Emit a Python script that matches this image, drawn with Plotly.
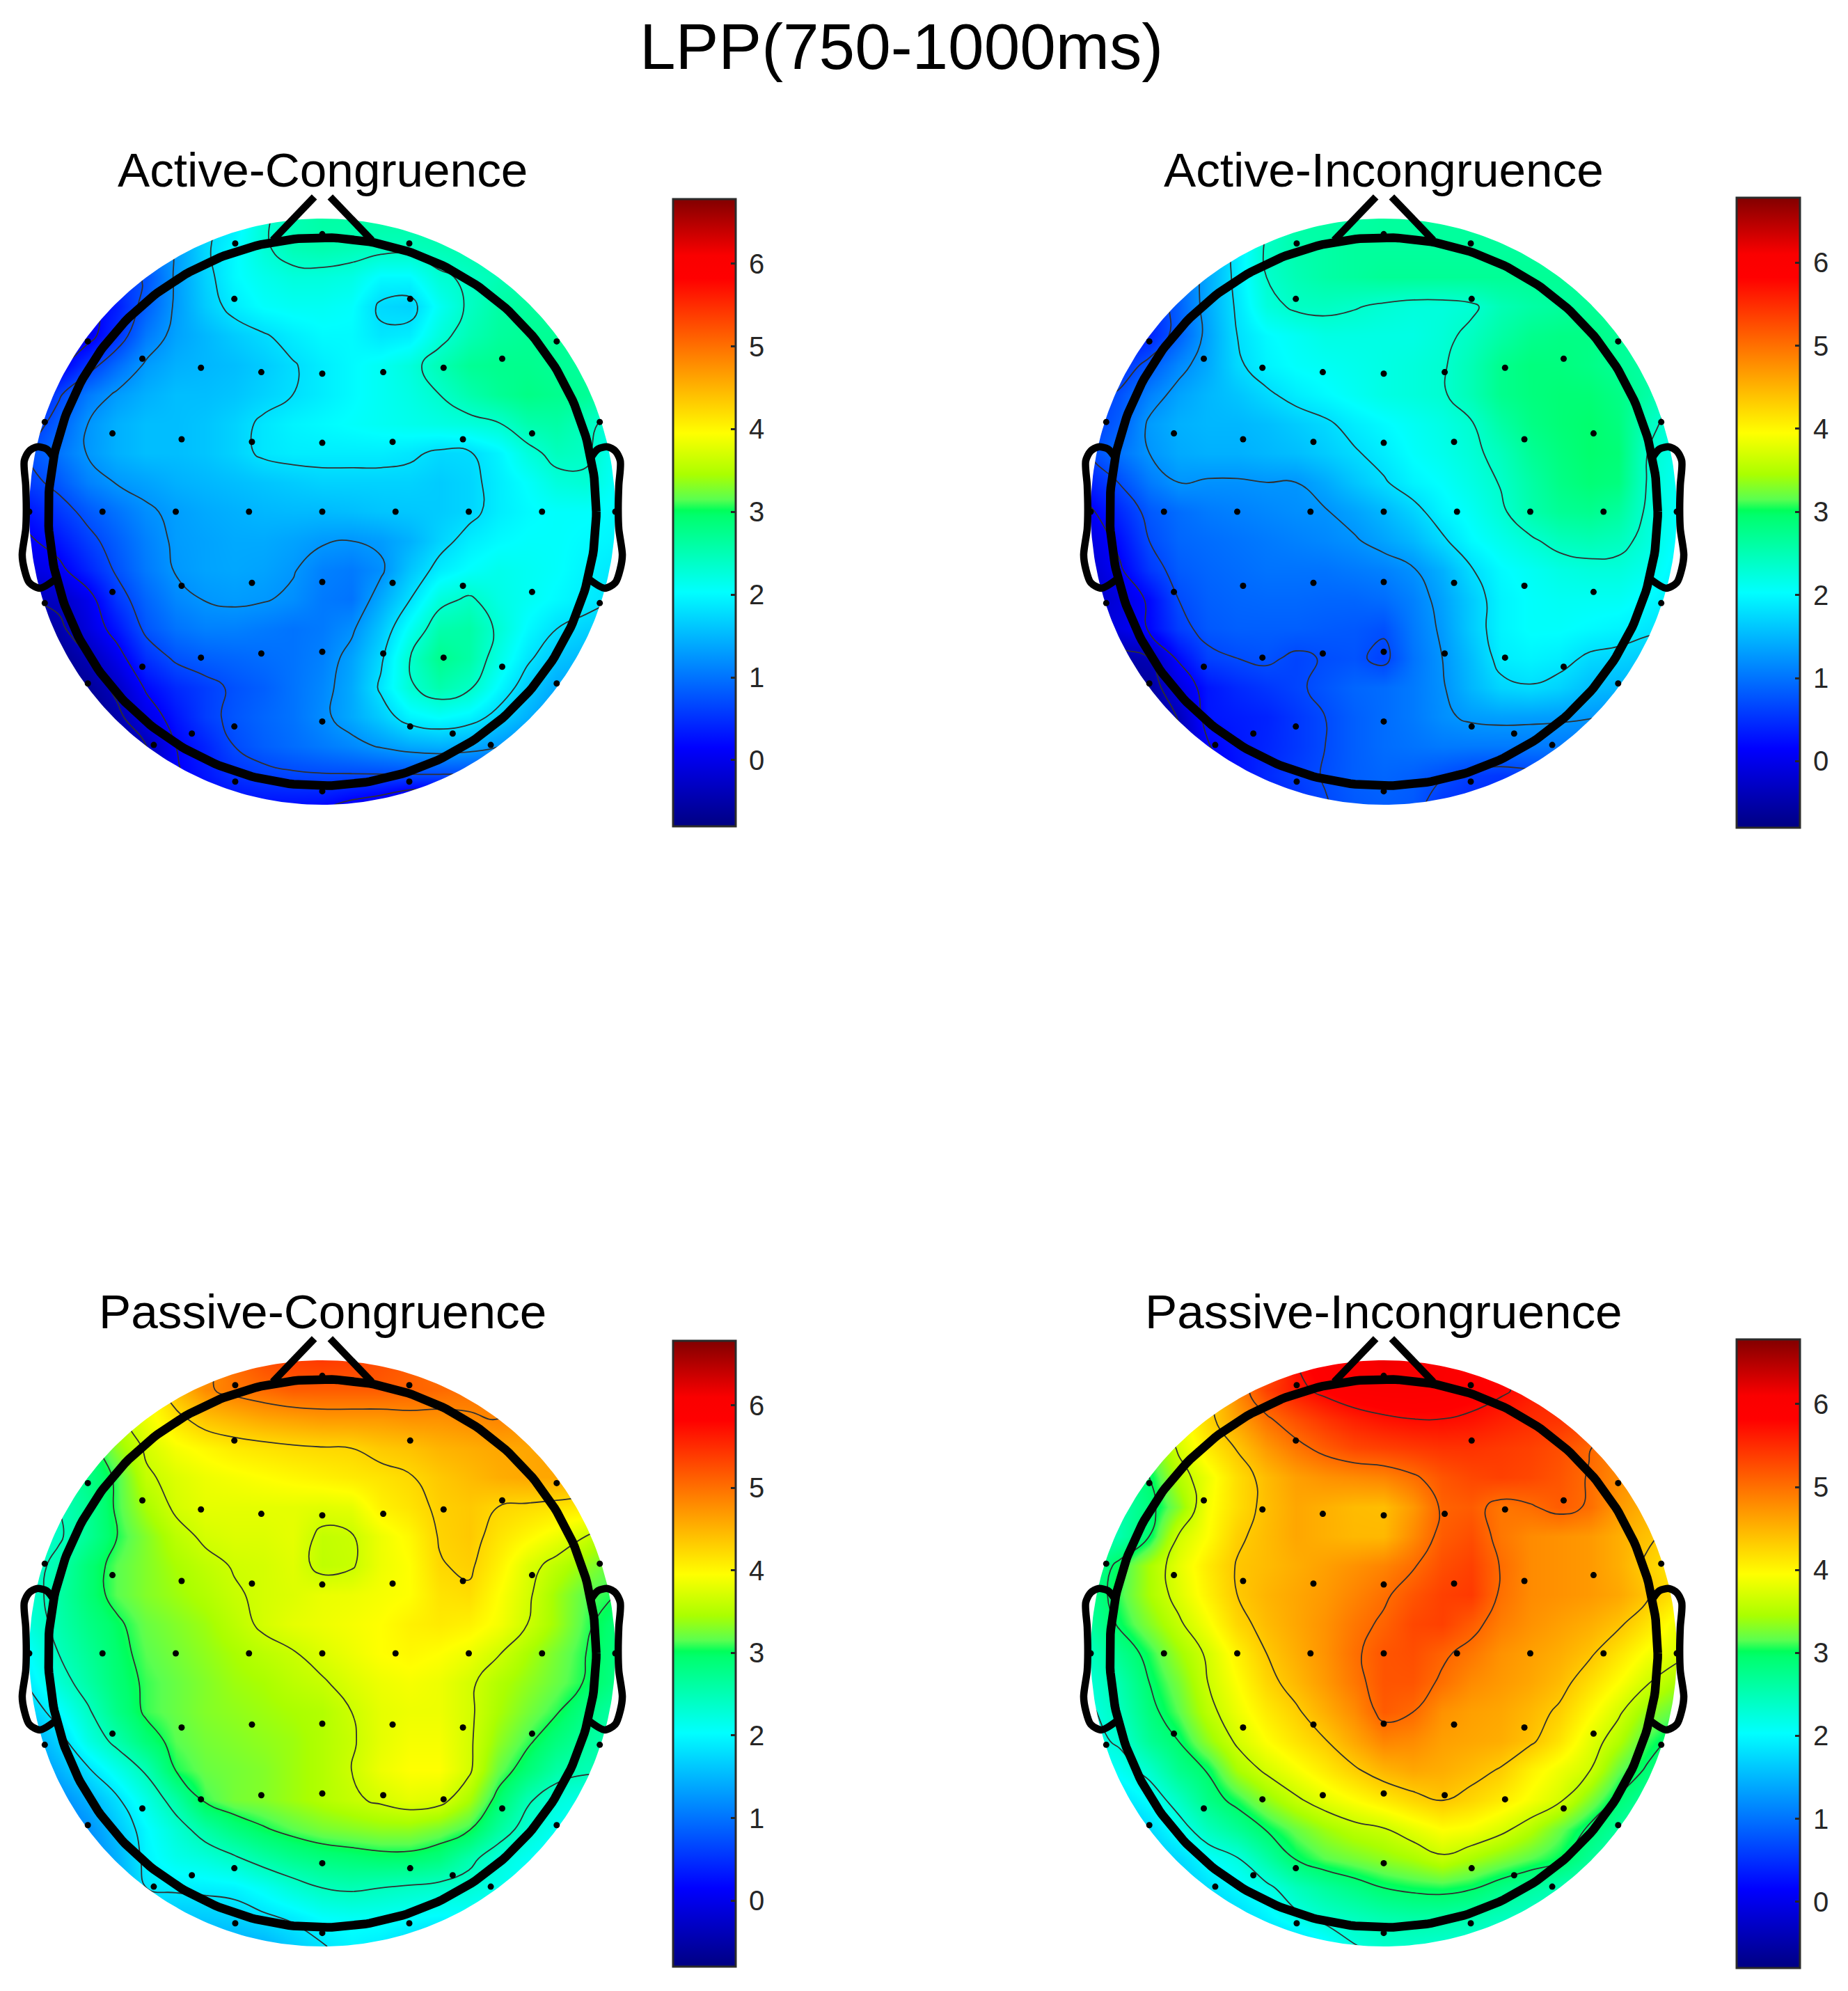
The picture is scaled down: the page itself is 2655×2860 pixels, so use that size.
import numpy as np
import plotly.graph_objects as go

W, H = 2655, 2860
titles = ["Active-Congruence", "Active-Incongruence", "Passive-Congruence", "Passive-Incongruence"]
main_title = "LPP(750-1000ms)"
tick_values = [0, 1, 2, 3, 4, 5, 6]
z_min, z_max = -0.80, 6.78
color_values = [-0.80, 0.15, 2.03, 2.95, 3.02, 3.15, 3.45, 3.95, 5.82, 6.10, 6.78]
color_rgb = ["rgb(0,0,130)", "rgb(0,0,255)", "rgb(0,255,255)", "rgb(0,255,110)", "rgb(0,255,90)",
             "rgb(90,255,80)", "rgb(170,255,0)", "rgb(255,255,0)", "rgb(255,0,0)", "rgb(250,0,0)", "rgb(130,0,0)"]

grid_x = [round(-1 + 0.1 * i, 1) for i in range(21)]
grid_y = [round(-1 + 0.1 * i, 1) for i in range(21)]

# rows run from y=+1 (front of the head) down to y=-1, columns from x=-1 to x=+1
active_congruence = [
 [1.0,1.0,1.1,1.2,1.3,1.5,1.7,1.9,2.3,2.5,2.6,2.6,2.6,2.6,2.6,2.6,2.6,2.6,2.6,2.6,2.6],
 [0.7,0.7,0.8,0.9,1.0,1.3,1.75,2.0,2.3,2.5,2.55,2.5,2.45,2.45,2.5,2.55,2.6,2.6,2.6,2.6,2.6],
 [0.2,0.2,0.3,0.5,0.75,1.3,1.7,2.0,2.15,2.25,2.25,2.2,2.0,2.0,2.3,2.4,2.5,2.55,2.6,2.6,2.6],
 [0.0,0.0,0.05,0.35,0.85,1.3,1.65,1.9,2.05,2.1,2.1,2.05,1.75,1.7,2.1,2.4,2.6,2.65,2.65,2.65,2.65],
 [-0.1,-0.1,0.0,0.5,1.05,1.35,1.5,1.65,1.77,1.9,2.0,2.0,1.85,1.9,2.25,2.5,2.65,2.7,2.7,2.7,2.7],
 [-0.1,0.05,0.55,0.95,1.3,1.45,1.5,1.55,1.65,1.78,1.9,2.0,2.1,2.25,2.5,2.7,2.75,2.75,2.7,2.65,2.6],
 [0.2,0.65,1.05,1.3,1.45,1.55,1.55,1.6,1.7,1.8,1.9,2.0,2.1,2.2,2.35,2.55,2.7,2.8,2.75,2.7,2.55],
 [0.5,0.85,1.25,1.45,1.55,1.55,1.6,1.7,1.85,1.95,2.0,2.05,2.1,2.15,2.2,2.25,2.33,2.55,2.6,2.45,2.2],
 [0.75,1.0,1.27,1.45,1.55,1.55,1.6,1.7,1.85,1.9,1.9,1.9,1.9,1.85,1.75,1.77,1.95,2.25,2.45,2.4,2.1],
 [0.6,0.8,1.1,1.27,1.35,1.45,1.5,1.55,1.6,1.65,1.7,1.7,1.7,1.7,1.65,1.72,1.9,2.05,2.25,2.3,2.05],
 [0.3,0.55,0.8,1.0,1.2,1.32,1.4,1.45,1.5,1.52,1.52,1.55,1.6,1.62,1.65,1.72,1.9,2.0,2.05,2.05,2.0],
 [0.1,0.3,0.6,0.85,1.1,1.3,1.35,1.4,1.4,1.35,1.28,1.25,1.3,1.45,1.7,1.9,2.0,2.05,2.05,2.0,1.95],
 [-0.1,0.05,0.4,0.75,1.05,1.27,1.35,1.38,1.35,1.27,1.1,1.05,1.2,1.6,1.9,2.05,2.15,2.1,2.05,1.95,1.85],
 [-0.4,-0.3,0.0,0.55,0.9,1.15,1.26,1.3,1.27,1.2,1.05,1.0,1.4,1.8,2.25,2.4,2.2,2.1,2.0,1.9,1.8],
 [-0.7,-0.5,-0.1,0.3,0.78,1.0,1.1,1.1,1.05,1.0,1.05,1.2,1.6,2.1,2.55,2.6,2.3,2.0,1.8,1.7,1.65],
 [-0.8,-0.7,-0.42,0.0,0.5,0.75,0.85,0.9,0.95,1.0,1.1,1.35,1.75,2.35,2.75,2.6,2.2,1.85,1.6,1.5,1.45],
 [-0.9,-0.8,-0.65,-0.3,0.2,0.45,0.6,0.75,0.85,1.0,1.15,1.4,1.85,2.3,2.55,2.4,2.0,1.65,1.4,1.3,1.25],
 [-0.9,-0.9,-0.8,-0.5,-0.05,0.3,0.6,0.78,0.9,1.0,1.18,1.4,1.65,1.95,2.05,1.95,1.7,1.45,1.2,1.1,1.0],
 [-0.9,-0.9,-0.85,-0.6,-0.4,0.15,0.4,0.7,0.85,0.95,1.05,1.15,1.28,1.4,1.45,1.4,1.27,1.1,0.95,0.85,0.8],
 [-0.9,-0.9,-0.9,-0.7,-0.45,0.1,0.3,0.5,0.6,0.65,0.67,0.67,0.67,0.67,0.67,0.65,0.6,0.55,0.5,0.45,0.4],
 [-0.9,-0.9,-0.9,-0.8,-0.6,-0.1,0.1,0.2,0.25,0.25,0.22,0.05,-0.1,-0.4,-0.5,-0.3,-0.1,0.0,0.0,0.0,0.0],
]
active_incongruence = [
 [0.6,0.6,0.7,0.9,1.2,1.7,2.3,2.6,2.6,2.6,2.65,2.65,2.65,2.65,2.65,2.65,2.65,2.65,2.65,2.65,2.65],
 [0.5,0.5,0.6,0.9,1.4,1.9,2.4,2.55,2.6,2.65,2.65,2.65,2.65,2.65,2.65,2.65,2.6,2.6,2.6,2.55,2.5],
 [0.3,0.3,0.5,0.9,1.4,1.9,2.35,2.5,2.6,2.65,2.7,2.7,2.7,2.7,2.7,2.7,2.7,2.65,2.6,2.55,2.5],
 [0.2,0.2,0.4,0.85,1.4,1.85,2.25,2.4,2.42,2.37,2.3,2.25,2.25,2.3,2.5,2.6,2.65,2.7,2.65,2.6,2.5],
 [0.1,0.2,0.4,0.85,1.35,1.8,2.0,2.1,2.2,2.2,2.2,2.2,2.28,2.42,2.6,2.75,2.8,2.8,2.7,2.6,2.5],
 [0.2,0.5,0.8,1.15,1.4,1.75,1.95,2.05,2.1,2.15,2.2,2.25,2.32,2.5,2.75,2.85,2.85,2.8,2.7,2.6,2.45],
 [0.55,0.75,1.1,1.35,1.5,1.6,1.75,1.9,2.0,2.1,2.2,2.25,2.32,2.5,2.75,2.85,2.9,2.9,2.8,2.6,2.3],
 [0.6,0.85,1.3,1.45,1.5,1.5,1.55,1.65,1.75,1.9,2.0,2.1,2.2,2.33,2.6,2.8,2.9,2.95,2.85,2.45,2.2],
 [0.7,1.0,1.25,1.4,1.45,1.45,1.5,1.55,1.65,1.77,1.9,2.05,2.15,2.28,2.45,2.7,2.85,2.95,2.9,2.35,2.15],
 [0.4,0.72,1.05,1.25,1.22,1.22,1.25,1.25,1.4,1.6,1.77,1.95,2.05,2.2,2.37,2.6,2.8,2.9,2.85,2.33,2.1],
 [0.1,0.45,0.8,0.95,1.05,1.1,1.15,1.2,1.23,1.35,1.5,1.7,1.95,2.1,2.3,2.55,2.7,2.75,2.65,2.3,2.05],
 [-0.1,0.25,0.7,0.9,0.95,1.0,1.05,1.1,1.15,1.22,1.35,1.5,1.75,2.0,2.15,2.3,2.45,2.5,2.45,2.25,2.0],
 [-0.2,0.1,0.55,0.82,0.9,0.95,1.0,1.0,1.0,1.05,1.1,1.22,1.45,1.78,2.0,2.1,2.2,2.25,2.25,2.15,1.95],
 [-0.3,-0.1,0.2,0.7,0.85,0.9,0.92,0.92,0.9,0.9,0.95,1.1,1.35,1.65,1.95,2.05,2.1,2.1,2.1,2.0,1.9],
 [-0.2,-0.05,0.18,0.6,0.8,0.85,0.85,0.85,0.82,0.8,0.74,1.05,1.3,1.65,1.95,2.05,2.05,2.0,1.95,1.85,1.8],
 [-0.6,-0.55,-0.4,0.2,0.62,0.7,0.75,0.65,0.72,0.76,0.62,1.0,1.25,1.55,1.9,1.95,1.9,1.75,1.7,1.65,1.6],
 [-0.7,-0.7,-0.6,-0.1,0.3,0.45,0.55,0.65,0.78,0.9,0.95,1.05,1.22,1.5,1.72,1.78,1.7,1.55,1.5,1.45,1.4],
 [-0.7,-0.7,-0.65,-0.38,0.3,0.35,0.4,0.55,0.7,0.85,0.95,1.05,1.2,1.3,1.33,1.32,1.3,1.27,1.2,1.15,1.1],
 [-0.7,-0.7,-0.7,-0.5,0.13,0.3,0.42,0.55,0.7,0.85,0.95,1.0,1.05,1.05,1.05,1.05,1.05,1.0,0.95,0.9,0.85],
 [-0.7,-0.7,-0.7,-0.5,0.0,0.25,0.45,0.6,0.72,0.85,0.9,0.85,0.72,0.6,0.55,0.6,0.6,0.6,0.6,0.6,0.6],
 [-0.7,-0.7,-0.7,-0.6,-0.1,0.2,0.35,0.5,0.68,0.8,0.85,0.8,0.55,0.45,0.4,0.4,0.4,0.4,0.4,0.4,0.4],
]
passive_congruence = [
 [2.85,2.85,3.05,3.35,3.75,4.15,4.65,5.05,5.25,5.35,5.4,5.35,5.25,5.15,4.95,4.85,4.75,4.75,4.75,4.75,4.75],
 [2.75,2.85,3.05,3.35,3.85,4.45,4.8,4.95,5.05,5.15,5.15,5.15,5.15,5.1,5.05,5.0,4.95,4.85,4.85,4.85,4.85],
 [2.45,2.55,2.85,3.55,3.85,4.15,4.4,4.5,4.6,4.65,4.7,4.7,4.7,4.75,4.75,4.8,4.85,4.8,4.8,4.75,4.75],
 [2.45,2.55,2.85,3.35,3.7,3.9,4.0,4.1,4.15,4.2,4.23,4.25,4.35,4.4,4.5,4.55,4.6,4.6,4.65,4.65,4.65],
 [2.35,2.5,2.8,3.1,3.6,3.75,3.85,3.9,3.95,4.0,4.05,4.1,4.15,4.23,4.35,4.45,4.55,4.6,4.6,4.55,4.55],
 [2.35,2.45,2.7,3.1,3.45,3.7,3.8,3.8,3.8,3.8,3.77,3.8,4.05,4.15,4.3,4.35,4.25,4.2,4.15,4.1,4.05],
 [2.35,2.4,2.7,3.05,3.3,3.55,3.7,3.75,3.75,3.8,3.59,3.63,3.85,4.0,4.27,4.35,4.15,4.0,3.85,3.65,3.35],
 [2.3,2.55,2.9,3.15,3.3,3.45,3.57,3.67,3.7,3.77,3.57,3.62,3.85,3.95,4.23,4.3,4.05,3.75,3.55,3.35,3.15],
 [2.3,2.6,2.9,3.15,3.3,3.4,3.5,3.62,3.7,3.75,3.83,3.85,3.9,3.95,4.15,4.2,3.95,3.7,3.4,3.15,3.05],
 [2.25,2.55,2.8,3.0,3.2,3.3,3.4,3.55,3.7,3.8,3.85,3.9,3.95,4.05,4.1,4.05,3.9,3.65,3.4,3.1,2.9],
 [2.05,2.45,2.7,2.95,3.15,3.25,3.35,3.45,3.55,3.63,3.75,3.85,3.95,4.0,3.95,3.85,3.67,3.45,3.25,3.05,2.85],
 [1.9,2.3,2.6,2.9,3.1,3.2,3.3,3.4,3.45,3.55,3.62,3.75,3.85,3.9,3.85,3.7,3.5,3.35,3.2,3.03,2.8],
 [1.65,2.0,2.4,2.8,3.1,3.2,3.3,3.35,3.4,3.45,3.5,3.65,3.8,3.85,3.85,3.7,3.45,3.25,3.07,2.8,2.6],
 [1.35,1.7,2.2,2.55,2.9,3.15,3.25,3.3,3.35,3.4,3.5,3.62,3.8,3.9,3.9,3.7,3.35,3.1,2.85,2.65,2.5],
 [1.15,1.45,1.8,2.15,2.5,3.05,3.2,3.25,3.3,3.4,3.5,3.65,3.85,3.95,3.95,3.7,3.2,2.9,2.6,2.5,2.5],
 [0.95,1.15,1.45,1.8,2.2,2.6,3.1,3.25,3.3,3.4,3.5,3.6,3.7,3.8,3.75,3.45,2.95,2.5,2.25,2.15,2.15],
 [0.75,0.95,1.2,1.6,2.0,2.3,2.6,2.85,3.02,3.15,3.25,3.3,3.35,3.35,3.25,3.08,2.65,2.3,2.1,2.0,2.0],
 [0.75,0.85,1.05,1.45,1.95,2.15,2.25,2.4,2.6,2.75,2.85,2.9,2.95,2.95,2.85,2.55,2.25,2.1,1.95,1.85,1.8],
 [0.75,0.85,1.05,1.35,1.85,1.9,1.92,1.95,2.1,2.3,2.45,2.5,2.45,2.4,2.35,2.3,2.15,2.0,1.9,1.8,1.75],
 [0.75,0.85,1.05,1.35,1.55,1.6,1.65,1.7,1.8,1.9,2.05,2.1,2.1,2.05,2.0,2.0,1.95,1.9,1.85,1.8,1.75],
 [0.75,0.85,0.95,1.05,1.15,1.25,1.35,1.4,1.45,1.65,1.83,1.95,1.88,1.7,1.55,1.55,1.55,1.55,1.55,1.55,1.55],
]
passive_incongruence = [
 [2.95,2.95,3.25,3.65,4.05,4.55,5.15,5.75,5.95,6.05,6.15,6.1,6.05,5.9,5.65,5.45,5.35,5.25,5.15,5.15,5.05],
 [2.75,2.85,3.15,3.6,4.15,4.85,5.35,5.65,5.85,6.0,6.05,6.05,6.0,5.9,5.8,5.65,5.5,5.4,5.3,5.25,5.15],
 [2.55,2.75,3.45,3.85,4.25,4.65,5.0,5.25,5.45,5.6,5.7,5.75,5.75,5.7,5.6,5.5,5.45,5.35,5.25,5.2,5.1],
 [2.45,2.75,3.15,3.7,4.1,4.37,4.7,4.95,5.15,5.3,5.35,5.4,5.45,5.45,5.4,5.35,5.25,5.07,4.85,4.75,4.65],
 [2.35,2.6,2.95,3.5,3.85,4.2,4.45,4.65,4.75,4.8,4.85,5.0,5.2,5.3,5.35,5.3,5.2,5.03,4.8,4.6,4.45],
 [2.35,2.55,2.85,3.3,3.9,4.2,4.43,4.6,4.53,4.45,4.43,4.7,5.1,5.15,4.95,5.02,5.15,5.02,4.7,4.5,4.35],
 [2.45,2.55,2.95,3.67,3.95,4.3,4.45,4.6,4.53,4.47,4.47,4.8,5.15,5.25,4.95,4.8,4.75,4.7,4.55,4.4,4.25],
 [2.65,3.05,3.45,3.8,4.1,4.37,4.45,4.55,4.65,4.75,4.85,5.02,5.25,5.35,5.03,4.8,4.75,4.7,4.55,4.3,4.1],
 [2.75,3.1,3.45,3.75,4.05,4.35,4.5,4.6,4.7,4.85,5.0,5.2,5.35,5.4,5.0,4.8,4.75,4.7,4.6,4.38,4.15],
 [2.65,3.0,3.3,3.6,3.9,4.25,4.45,4.6,4.75,4.95,5.1,5.3,5.35,5.15,4.9,4.75,4.65,4.55,4.4,4.15,3.85],
 [2.45,2.75,3.05,3.4,3.7,4.05,4.35,4.55,4.75,5.0,5.2,5.25,5.1,4.95,4.75,4.65,4.55,4.4,4.15,3.9,3.75],
 [2.3,2.55,2.95,3.25,3.65,3.95,4.25,4.47,4.7,4.95,5.2,5.2,5.0,4.8,4.7,4.6,4.45,4.2,3.95,3.67,3.45],
 [2.2,2.45,2.85,3.15,3.55,3.85,4.1,4.3,4.55,4.8,5.15,5.05,4.75,4.65,4.6,4.47,4.3,4.0,3.7,3.35,3.15],
 [2.15,2.3,2.7,2.95,3.35,3.7,3.95,4.15,4.33,4.6,4.85,4.8,4.65,4.6,4.55,4.4,4.15,3.8,3.5,3.1,2.85],
 [1.95,2.1,2.35,2.75,2.97,3.45,3.7,3.9,4.1,4.3,4.5,4.6,4.55,4.45,4.32,4.05,3.85,3.67,3.2,2.9,2.7],
 [1.65,1.8,2.05,2.4,2.8,3.05,3.35,3.6,3.8,3.95,4.1,4.25,4.37,4.25,4.1,3.9,3.7,3.3,2.9,2.65,2.55],
 [1.35,1.5,1.75,2.1,2.45,2.7,2.97,3.2,3.4,3.55,3.63,3.8,3.95,3.9,3.73,3.5,3.2,2.9,2.65,2.45,2.35],
 [1.25,1.35,1.55,1.75,2.05,2.23,2.6,2.97,3.15,3.25,3.35,3.45,3.6,3.45,3.3,3.15,3.0,2.7,2.45,2.3,2.2],
 [1.25,1.25,1.35,1.55,1.8,2.0,2.17,2.45,2.65,2.8,2.95,3.02,3.05,2.98,2.8,2.65,2.5,2.4,2.3,2.15,2.05],
 [1.25,1.25,1.25,1.35,1.55,1.75,1.95,2.18,2.35,2.45,2.55,2.6,2.6,2.55,2.45,2.35,2.25,2.15,2.05,1.95,1.95],
 [1.25,1.25,1.25,1.25,1.3,1.35,1.55,1.7,1.95,2.23,2.35,2.35,2.3,2.25,2.2,2.15,2.05,1.95,1.95,1.95,1.95],
]
panel_values = [active_congruence, active_incongruence, passive_congruence, passive_incongruence]
contour_start = [-0.4, -0.4, 1.85, 2.25]
contour_end = [2.35, 2.35, 4.85, 5.75]
contour_step = [0.55, 0.55, 0.6, 0.7]

electrode_x = [0, -.297, .297, -.30, .30, -.80, .80, -.614, .614, -.414, -.208, 0, .208, .414, -.947, .947,
               -.716, -.48, -.24, 0, .24, .48, .716, -1, -.75, -.5, -.25, 0, .25, .5, .75, 1,
               -.716, -.48, -.24, 0, .24, .48, .716, -.947, .947,
               -.614, -.414, -.208, 0, .208, .414, .614, -.80, .80, -.30, 0, .30, -.445, .445, -.575, .575,
               -.297, .297, 0]
electrode_y = [.947, .915, .915, .726, .726, .581, .581, .522, .522, .491, .476, .471, .476, .491, .306, .306,
               .267, .247, .238, .235, .238, .247, .267, 0, 0, 0, 0, 0, 0, 0, 0, 0,
               -.274, -.253, -.243, -.24, -.243, -.253, -.274, -.312, -.312,
               -.529, -.498, -.484, -.478, -.484, -.498, -.529, -.586, -.586, -.733, -.716, -.733, -.757, -.757, -.796, -.796,
               -.921, -.921, -.954]

# outline of nose and ear, in units of the head disk radius
nose_x = [-.169, -.027, None, .027, .169]
nose_y = [.926, 1.074, None, 1.074, .926]
ear_x = [-.917, -.941, -.974, -1.0, -1.017, -1.012, -1.01, -1.012, -1.024, -1.017, -1.0, -.964, -.91]
ear_y = [.185, .214, .221, .207, .173, .09, .005, -.059, -.147, -.195, -.242, -.261, -.23]

panel_cx = [463, 1988, 463, 1988]
panel_cy = [735, 735, 2375, 2375]
disk_r = 421
ring_r = 0.935
bar_x0 = [967, 2495, 967, 2495]
bar_x1 = [1057, 2586, 1057, 2586]
bar_y0 = [286, 284, 1926, 1924]
bar_y1 = [1187, 1189, 2825, 2827]
title_y = [244, 244, 1884, 1884]

span = (z_max - z_min)
colorscale = [[(v - z_min) / span, c] for v, c in zip(color_values, color_rgb)]

theta = np.linspace(0, 2 * np.pi, 361)
mask_x = [1.1, -1.1, -1.1, 1.1, 1.1, 1.0] + list(np.cos(-theta)) + [1.1]
mask_y = [1.1, 1.1, -1.1, -1.1, 0, 0] + list(np.sin(-theta)) + [0]

fig = go.Figure()
layout_axes = {}
extent = 1.09
for i in range(4):
    name = "" if i == 0 else str(i + 1)
    xa, ya = "x" + name, "y" + name
    cx, cy = panel_cx[i], panel_cy[i]
    layout_axes["xaxis" + name] = dict(domain=[(cx - extent * disk_r) / W, (cx + extent * disk_r) / W],
                                       range=[-extent, extent], visible=False, fixedrange=True)
    layout_axes["yaxis" + name] = dict(domain=[1 - (cy + extent * disk_r) / H, 1 - (cy - extent * disk_r) / H],
                                       range=[-extent, extent], visible=False, fixedrange=True)
    rows = panel_values[i][::-1]
    fig.add_trace(go.Heatmap(
        x=grid_x, y=grid_y, z=rows, xaxis=xa, yaxis=ya, zmin=z_min, zmax=z_max, zsmooth="best",
        colorscale=colorscale, hoverinfo="skip",
        colorbar=dict(x=bar_x0[i] / W, xanchor="left", xpad=0, thickness=bar_x1[i] - bar_x0[i], thicknessmode="pixels",
                      y=1 - bar_y1[i] / H, yanchor="bottom", ypad=0, len=(bar_y1[i] - bar_y0[i]) / H, lenmode="fraction",
                      tickmode="array", tickvals=tick_values, showticklabels=False,
                      ticks="inside", ticklen=8, tickwidth=3, tickcolor="#262626",
                      outlinecolor="#2b2b2b", outlinewidth=3),
    ))
    fig.add_trace(go.Contour(
        x=grid_x, y=grid_y, z=rows, xaxis=xa, yaxis=ya, showscale=False, hoverinfo="skip",
        contours=dict(coloring="none", start=contour_start[i], end=contour_end[i], size=contour_step[i]),
        line=dict(color="#303030", width=1.8, smoothing=1.3),
    ))
    fig.add_trace(go.Scatter(x=mask_x, y=mask_y, xaxis=xa, yaxis=ya, mode="lines", fill="toself",
                             fillcolor="white", line=dict(width=0, color="white"), hoverinfo="skip", showlegend=False))
    fig.add_trace(go.Scatter(x=nose_x, y=nose_y, xaxis=xa, yaxis=ya, mode="lines",
                             line=dict(color="black", width=10.5), hoverinfo="skip", showlegend=False))
    for side in (ear_x, [-v for v in ear_x]):
        fig.add_trace(go.Scatter(x=side, y=ear_y, xaxis=xa, yaxis=ya,
                                 mode="lines", line=dict(color="black", width=10.5, shape="spline", smoothing=0.8),
                                 hoverinfo="skip", showlegend=False))
    fig.add_trace(go.Scatter(x=ring_r * np.cos(theta), y=ring_r * np.sin(theta), xaxis=xa, yaxis=ya, mode="lines",
                             line=dict(color="black", width=12.5), hoverinfo="skip", showlegend=False))
    fig.add_trace(go.Scatter(x=electrode_x, y=electrode_y, xaxis=xa, yaxis=ya, mode="markers",
                             marker=dict(color="black", size=9), hoverinfo="skip", showlegend=False))

annotations = [dict(text=main_title, x=1295 / W, y=1 - 67 / H, xref="paper", yref="paper", xanchor="center",
                    yanchor="middle", showarrow=False, font=dict(family="Liberation Sans", size=92.7, color="black"))]
for i in range(4):
    annotations.append(dict(text=titles[i], x=panel_cx[i] / W, y=1 - title_y[i] / H, xref="paper", yref="paper",
                            xanchor="center", yanchor="middle", showarrow=False,
                            font=dict(family="Liberation Sans", size=69.3, color="black")))
    bar_h = bar_y1[i] - bar_y0[i]
    for t in tick_values:
        tick_px = bar_y1[i] - (t - z_min) / span * bar_h
        annotations.append(dict(text=str(t), x=(bar_x1[i] + 17) / W, y=1 - tick_px / H, xref="paper", yref="paper",
                                xanchor="left", yanchor="middle", showarrow=False,
                                font=dict(family="Liberation Sans", size=40, color="#262626")))

fig.update_layout(width=W, height=H, margin=dict(l=0, r=0, t=0, b=0), paper_bgcolor="white", plot_bgcolor="white",
                  showlegend=False, annotations=annotations, **layout_axes)
fig.write_html("out.html", config={"displayModeBar": False},
               post_script="document.body.style.margin='0';document.body.style.overflow='hidden';")
